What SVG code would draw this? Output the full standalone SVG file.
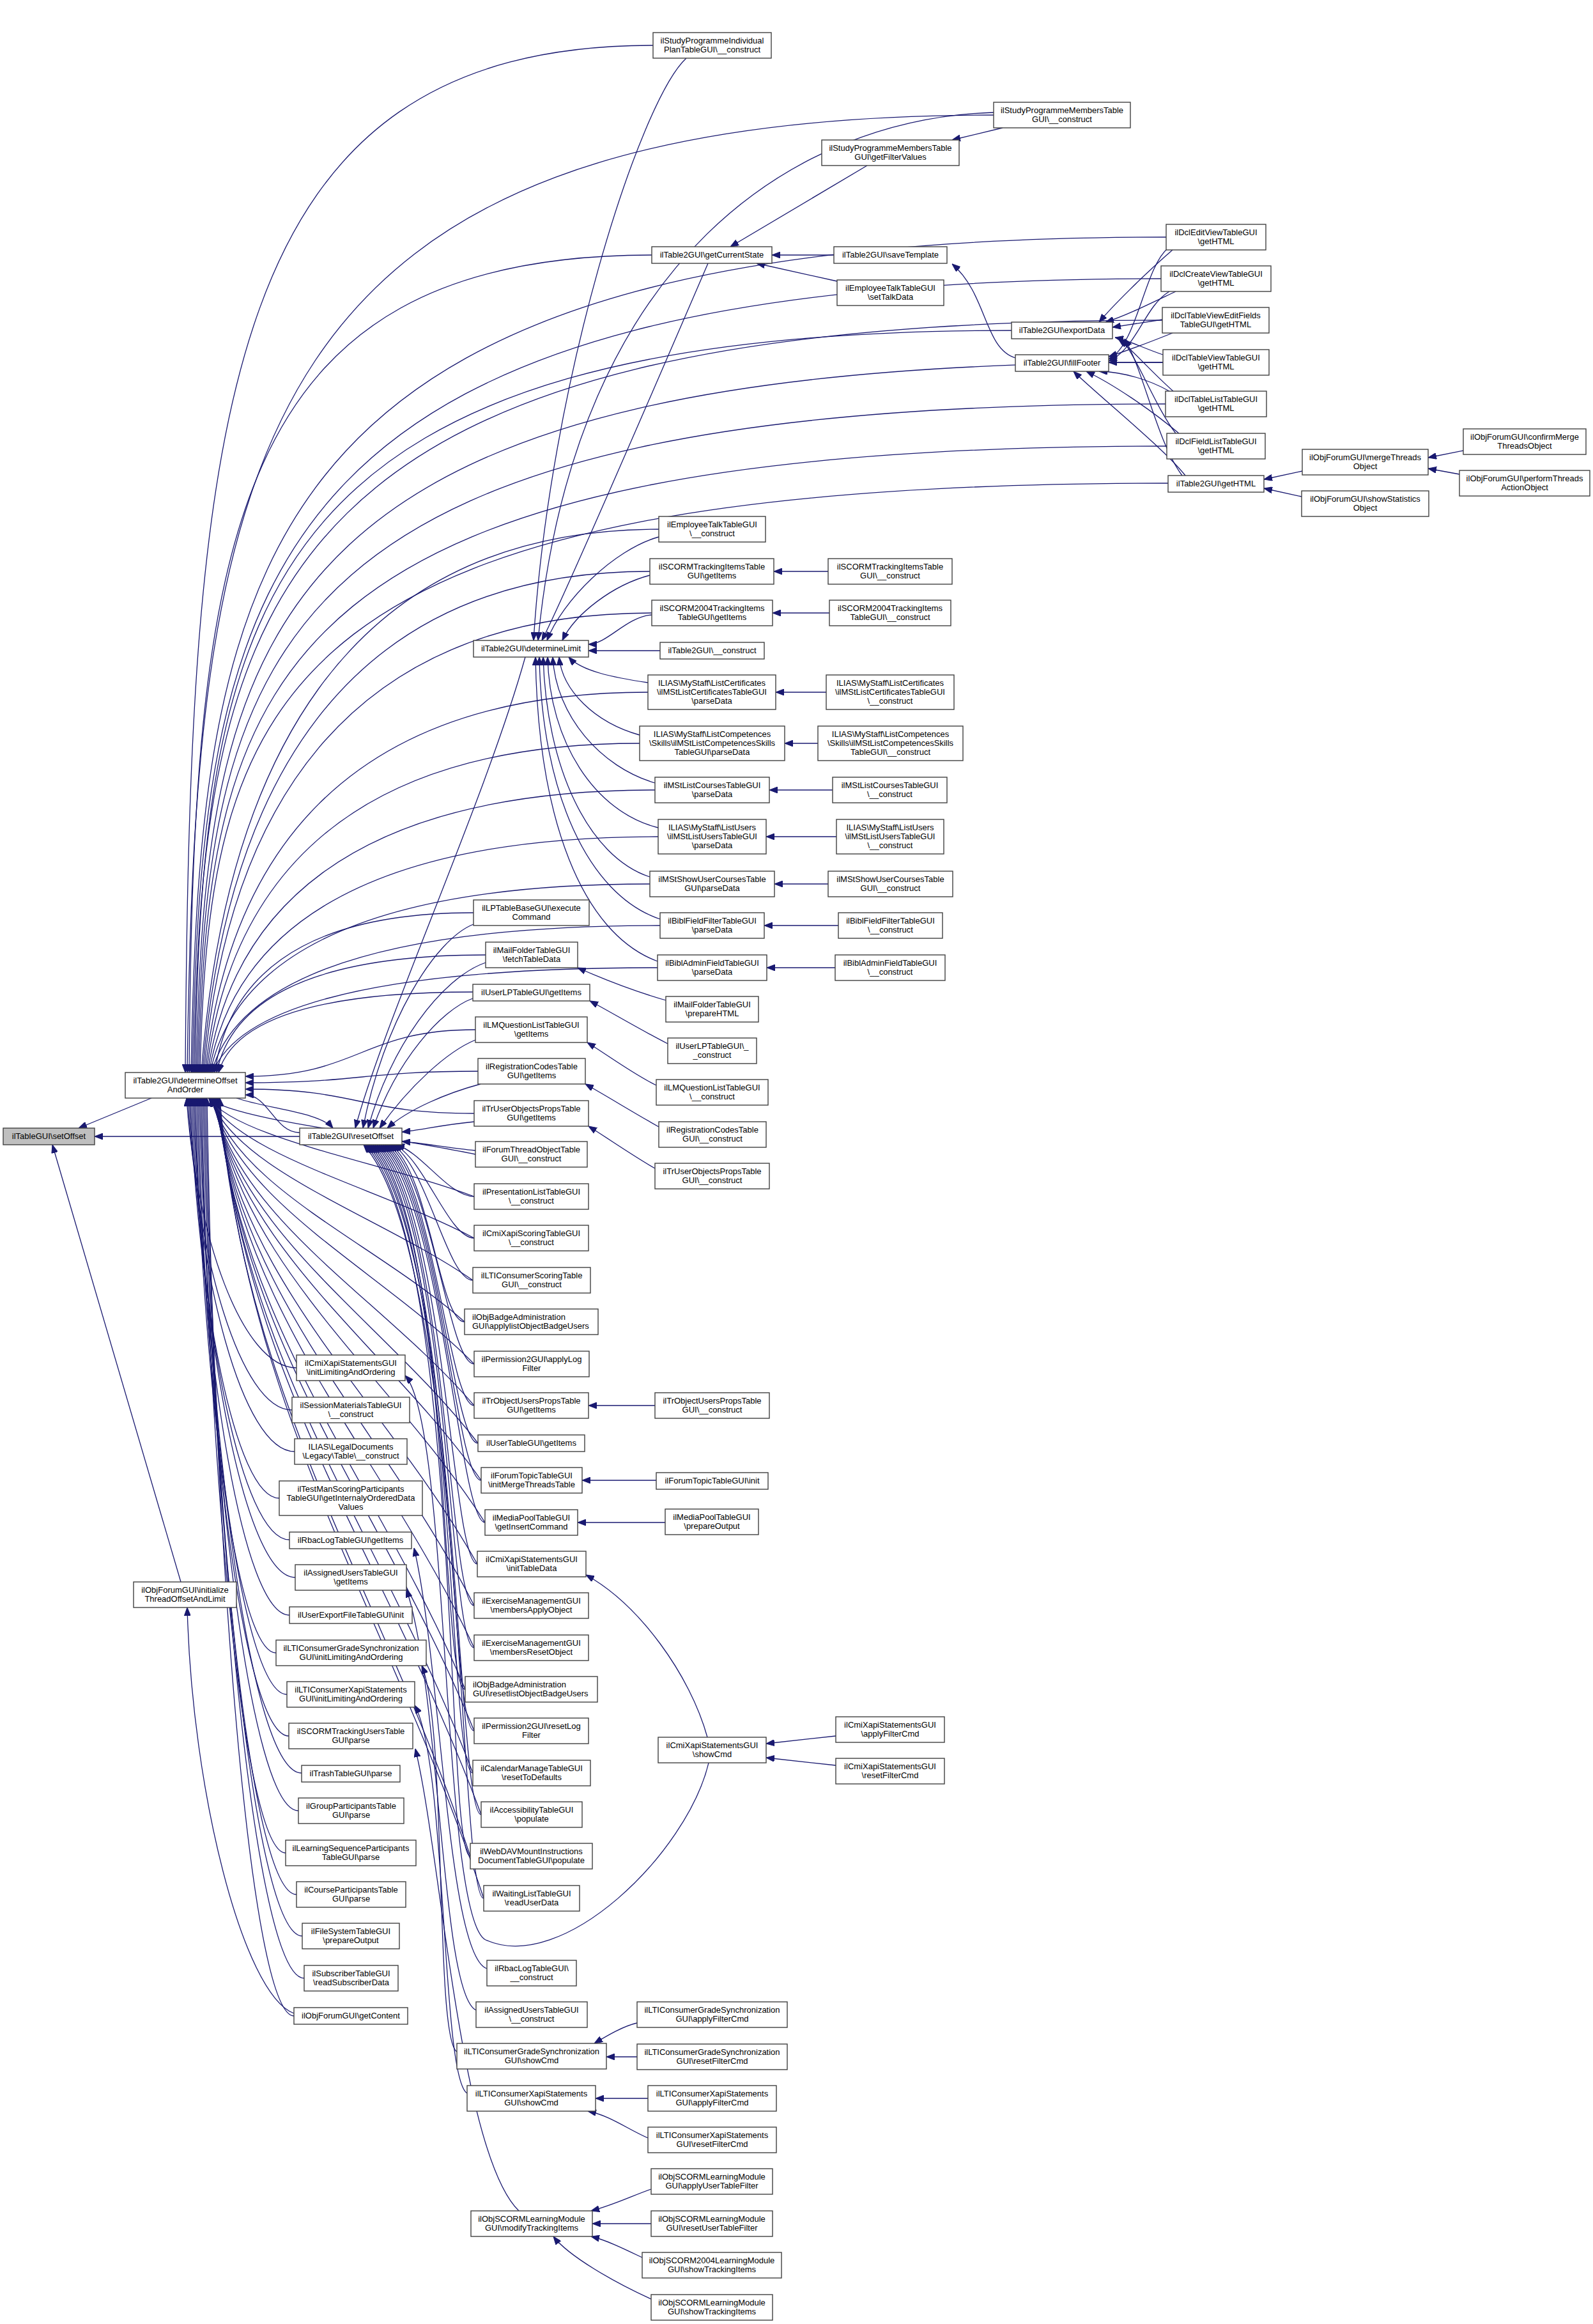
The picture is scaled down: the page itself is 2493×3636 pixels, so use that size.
<svg xmlns="http://www.w3.org/2000/svg" width="2493" height="3636" viewBox="0 0 2493 3636">
<defs>
<marker id="arr" markerWidth="13" markerHeight="10" refX="13" refY="5" orient="auto" markerUnits="userSpaceOnUse"><path d="M0,0 L13,5 L0,10 z" fill="#191970" stroke="#191970" stroke-width="1"/></marker>
</defs>
<style>
.e path{fill:none;stroke:#191970;stroke-width:1.3;marker-end:url(#arr)}
.n rect{fill:#ffffff;stroke:#404040;stroke-width:1.4}
.n rect.hl{fill:#bfbfbf}
.n text{font-family:"Liberation Sans",Arial,Helvetica,sans-serif;font-size:13px;fill:#000;text-anchor:middle}
.n text.l{text-anchor:start}
</style>
<rect x="0" y="0" width="2493" height="3636" fill="#ffffff"/>
<g id="edges" class="e">
<path d="M237,1718 L123,1765"/>
<path d="M469,1778 L148,1778"/>
<path d="M283,2475 L82,1791"/>
<path d="M460,3150 C380,3120 300,2800 293,2515"/>
<path d="M1022,71 C349,71 297,633 290,1678"/>
<path d="M1555,180 C394,180 306,704 293,1678"/>
<path d="M1020,399 C354,399 303,847 296,1678"/>
<path d="M1825,371 C421,371 314,828 299,1678"/>
<path d="M1817,436 C422,436 316,871 301,1678"/>
<path d="M1819,501 C424,501 318,913 303,1678"/>
<path d="M1583,517 C407,517 318,923 305,1678"/>
<path d="M1820,567 C428,567 322,956 307,1678"/>
<path d="M1824,632 C430,632 324,998 309,1678"/>
<path d="M1826,698 C432,698 326,1041 311,1678"/>
<path d="M1828,756 C434,756 328,1079 313,1678"/>
<path d="M1031,828 C530,828 351,1210 315,1678"/>
<path d="M1017,894 C527,894 352,1247 317,1678"/>
<path d="M1020,959 C529,959 354,1283 319,1678"/>
<path d="M1014,1083 C529,1083 356,1351 321,1678"/>
<path d="M1001,1163 C526,1163 357,1395 323,1678"/>
<path d="M1025,1236 C535,1236 360,1435 325,1678"/>
<path d="M1030,1309 C538,1309 362,1475 327,1678"/>
<path d="M1017,1383 C535,1383 363,1516 329,1678"/>
<path d="M1033,1448 C542,1448 366,1551 331,1678"/>
<path d="M1029,1514 C542,1514 368,1588 333,1678"/>
<path d="M741,1428 C458,1428 356,1540 336,1678"/>
<path d="M760,1494 C465,1494 360,1577 339,1678"/>
<path d="M740,1552 C461,1552 362,1609 342,1678"/>
<path d="M744,1611 C564,1611 564,1684 384,1684"/>
<path d="M748,1676 C566,1676 566,1694 384,1694"/>
<path d="M742,1742 C563,1742 563,1704 384,1704"/>
<path d="M469,1772 C430,1772 420,1713 384,1713"/>
<path d="M370,1718 C420,1735 500,1740 521,1765"/>
<path d="M464,2140 C378,2140 306,1929 292,1718"/>
<path d="M457,2206 C376,2206 307,1962 294,1718"/>
<path d="M461,2271 C379,2271 309,1994 296,1718"/>
<path d="M437,2344 C368,2344 309,2031 298,1718"/>
<path d="M453,2409 C377,2409 312,2064 300,1718"/>
<path d="M462,2468 C382,2468 315,2093 302,1718"/>
<path d="M453,2527 C379,2527 316,2123 304,1718"/>
<path d="M432,2586 C369,2586 316,2152 306,1718"/>
<path d="M449,2651 C379,2651 319,2185 308,1718"/>
<path d="M452,2716 C381,2716 321,2217 310,1718"/>
<path d="M472,2774 C392,2774 325,2246 312,1718"/>
<path d="M467,2833 C391,2833 326,2276 314,1718"/>
<path d="M447,2899 C382,2899 326,2308 316,1718"/>
<path d="M464,2964 C391,2964 330,2341 318,1718"/>
<path d="M473,3029 C397,3029 332,2374 320,1718"/>
<path d="M476,3095 C399,3095 334,2406 322,1718"/>
<path d="M460,3154 C392,3154 335,2436 324,1718"/>
<path d="M744,1806 C598,1775 368,1753 326,1718"/>
<path d="M742,1872 C597,1818 369,1780 327,1718"/>
<path d="M742,1937 C597,1860 369,1806 328,1718"/>
<path d="M740,2003 C596,1903 370,1832 329,1718"/>
<path d="M727,2068 C588,1945 370,1858 330,1718"/>
<path d="M742,2134 C598,1988 372,1884 331,1718"/>
<path d="M742,2199 C598,2031 373,1910 332,1718"/>
<path d="M748,2258 C603,2069 375,1934 333,1718"/>
<path d="M753,2316 C606,2107 376,1957 334,1718"/>
<path d="M759,2382 C611,2150 377,1984 335,1718"/>
<path d="M747,2447 C603,2192 377,2010 336,1718"/>
<path d="M742,2512 C600,2234 378,2036 337,1718"/>
<path d="M742,2578 C601,2277 378,2062 338,1718"/>
<path d="M728,2643 C592,2319 378,2088 339,1718"/>
<path d="M742,2708 C601,2361 380,2114 340,1718"/>
<path d="M740,2774 C600,2404 381,2140 341,1718"/>
<path d="M753,2839 C609,2447 383,2166 342,1718"/>
<path d="M736,2904 C598,2489 382,2192 343,1718"/>
<path d="M757,2970 C612,2532 385,2219 344,1718"/>
<path d="M822,1028 C760,1250 600,1600 556,1765"/>
<path d="M741,1446 C680,1470 600,1600 568,1765"/>
<path d="M760,1506 C690,1530 610,1640 576,1765"/>
<path d="M740,1562 C690,1580 620,1660 584,1765"/>
<path d="M744,1627 C700,1645 640,1700 594,1765"/>
<path d="M752,1696 C700,1710 640,1735 606,1765"/>
<path d="M742,1755 C690,1760 660,1768 629,1771"/>
<path d="M744,1800 C700,1796 660,1788 629,1786"/>
<path d="M742,1872 C702,1872 660,1802 620,1791"/>
<path d="M742,1937 C702,1937 664,1812 617,1791"/>
<path d="M740,2003 C700,2003 668,1822 614,1791"/>
<path d="M727,2068 C687,2068 672,1832 611,1791"/>
<path d="M742,2134 C702,2134 676,1842 608,1791"/>
<path d="M742,2199 C702,2199 680,1851 605,1791"/>
<path d="M748,2258 C708,2258 684,1860 602,1791"/>
<path d="M753,2316 C713,2316 688,1869 599,1791"/>
<path d="M759,2382 C719,2382 692,1879 596,1791"/>
<path d="M747,2447 C707,2447 696,1889 593,1791"/>
<path d="M742,2512 C702,2512 700,1898 590,1791"/>
<path d="M742,2578 C702,2578 704,1908 587,1791"/>
<path d="M728,2643 C688,2643 708,1918 584,1791"/>
<path d="M742,2708 C702,2708 712,1928 581,1791"/>
<path d="M740,2774 C700,2774 716,1938 578,1791"/>
<path d="M753,2839 C713,2839 720,1947 575,1791"/>
<path d="M736,2904 C696,2904 724,1957 572,1791"/>
<path d="M757,2970 C717,2970 728,1967 569,1791"/>
<path d="M1074,91 C1000,160 860,600 835,1002"/>
<path d="M1555,176 C1250,185 900,400 842,1002"/>
<path d="M1108,412 C1040,570 880,940 848,1002"/>
<path d="M1031,840 C960,860 880,940 856,1002"/>
<path d="M1017,900 C960,915 900,960 880,1002"/>
<path d="M1020,962 C980,965 950,1008 921,1008"/>
<path d="M1033,1018 L921,1018"/>
<path d="M1014,1068 C960,1060 910,1050 890,1028"/>
<path d="M1001,1150 C930,1130 880,1080 875,1028"/>
<path d="M1025,1225 C940,1200 870,1120 865,1028"/>
<path d="M1030,1295 C930,1270 860,1160 857,1028"/>
<path d="M1017,1372 C920,1340 855,1200 850,1028"/>
<path d="M1033,1438 C920,1400 848,1240 844,1028"/>
<path d="M1029,1504 C910,1460 842,1280 838,1028"/>
<path d="M1042,1565 C990,1550 940,1530 904,1514"/>
<path d="M1045,1633 C1000,1610 950,1580 923,1566"/>
<path d="M1027,1698 C990,1680 950,1650 919,1631"/>
<path d="M1031,1763 C990,1740 950,1715 916,1696"/>
<path d="M1025,1828 C990,1808 950,1780 921,1762"/>
<path d="M1025,2199 L921,2199"/>
<path d="M1027,2316 L911,2316"/>
<path d="M1041,2382 L904,2382"/>
<path d="M1107,2718 C1080,2620 1000,2510 917,2464"/>
<path d="M1109,2758 C1075,2900 880,3090 760,3035 C690,3000 705,2230 634,2152"/>
<path d="M762,3080 C700,3060 690,2600 648,2422"/>
<path d="M745,3145 C690,3120 690,2650 636,2486"/>
<path d="M715,3210 C680,3190 700,2700 660,2606"/>
<path d="M731,3275 C690,3250 700,2760 649,2668"/>
<path d="M812,3459 C720,3370 690,2900 650,2736"/>
<path d="M997,3165 C975,3170 950,3185 930,3197"/>
<path d="M997,3218 L949,3218"/>
<path d="M1014,3283 L932,3283"/>
<path d="M1014,3345 C980,3330 955,3310 920,3303"/>
<path d="M1019,3425 C990,3435 960,3450 925,3459"/>
<path d="M1019,3479 L927,3479"/>
<path d="M1005,3532 C980,3520 950,3505 925,3499"/>
<path d="M1019,3597 C960,3570 890,3530 866,3499"/>
<path d="M1308,2716 L1199,2728"/>
<path d="M1308,2762 L1199,2750"/>
<path d="M1296,894 L1211,894"/>
<path d="M1298,959 L1209,959"/>
<path d="M1293,1083 L1214,1083"/>
<path d="M1280,1163 L1228,1163"/>
<path d="M1303,1236 L1204,1236"/>
<path d="M1309,1309 L1199,1309"/>
<path d="M1296,1383 L1212,1383"/>
<path d="M1312,1448 L1196,1448"/>
<path d="M1307,1514 L1200,1514"/>
<path d="M1357,259 L1143,386"/>
<path d="M1305,399 L1208,399"/>
<path d="M1310,440 L1184,412"/>
<path d="M1569,200 L1490,219"/>
<path d="M1589,560 C1540,545 1545,460 1490,413"/>
<path d="M1835,391 C1790,430 1740,480 1720,504"/>
<path d="M1828,388 C1790,420 1780,540 1735,562"/>
<path d="M1840,456 C1800,475 1760,495 1730,504"/>
<path d="M1830,456 C1790,480 1780,545 1735,565"/>
<path d="M1819,500 L1741,512"/>
<path d="M1835,521 C1800,535 1760,550 1735,558"/>
<path d="M1820,555 C1790,545 1765,532 1745,528"/>
<path d="M1820,567 L1735,567"/>
<path d="M1836,612 C1800,580 1770,545 1750,530"/>
<path d="M1830,612 C1800,595 1760,582 1720,581"/>
<path d="M1840,678 C1810,640 1780,560 1755,530"/>
<path d="M1845,678 C1800,640 1740,600 1700,581"/>
<path d="M1850,744 C1810,690 1790,580 1760,530"/>
<path d="M1855,744 C1820,700 1720,620 1680,581"/>
<path d="M2038,737 L1978,750"/>
<path d="M2037,777 L1978,764"/>
<path d="M2290,705 L2235,716"/>
<path d="M2284,742 L2235,733"/>
</g>
<g id="n-setOffset" class="n"><rect class="hl" x="5" y="1765" width="143" height="26"/><text x="76.5" y="1782">ilTableGUI\setOffset</text></g>
<g id="n-determineOffsetAndOrder" class="n"><rect x="196" y="1678" width="188" height="40"/><text x="290" y="1695">ilTable2GUI\determineOffset<tspan x="290" dy="14">AndOrder</tspan></text></g>
<g id="n-initializeThreadOffsetAndLimit" class="n"><rect x="209" y="2475" width="161" height="40"/><text x="289.5" y="2492">ilObjForumGUI\initialize<tspan x="289.5" dy="14">ThreadOffsetAndLimit</tspan></text></g>
<g id="n-resetOffset" class="n"><rect x="469" y="1765" width="160" height="26"/><text x="549" y="1782">ilTable2GUI\resetOffset</text></g>
<g id="n-c1" class="n"><rect x="464" y="2120" width="170" height="40"/><text x="549" y="2137">ilCmiXapiStatementsGUI<tspan x="549" dy="14">\initLimitingAndOrdering</tspan></text></g>
<g id="n-c2" class="n"><rect x="457" y="2186" width="184" height="40"/><text x="549" y="2203">ilSessionMaterialsTableGUI<tspan x="549" dy="14">\__construct</tspan></text></g>
<g id="n-c3" class="n"><rect x="461" y="2251" width="176" height="40"/><text x="549" y="2268">ILIAS\LegalDocuments<tspan x="549" dy="14">\Legacy\Table\__construct</tspan></text></g>
<g id="n-c4" class="n"><rect x="437" y="2317" width="224" height="54"/><text x="549" y="2334">ilTestManScoringParticipants<tspan x="549" dy="14">TableGUI\getInternalyOrderedData</tspan><tspan x="549" dy="14">Values</tspan></text></g>
<g id="n-c5" class="n"><rect x="453" y="2397" width="191" height="26"/><text x="548.5" y="2414">ilRbacLogTableGUI\getItems</text></g>
<g id="n-c6" class="n"><rect x="462" y="2448" width="174" height="40"/><text x="549" y="2465">ilAssignedUsersTableGUI<tspan x="549" dy="14">\getItems</tspan></text></g>
<g id="n-c7" class="n"><rect x="453" y="2514" width="192" height="26"/><text x="549" y="2531">ilUserExportFileTableGUI\init</text></g>
<g id="n-c8" class="n"><rect x="432" y="2566" width="235" height="40"/><text x="549.5" y="2583">ilLTIConsumerGradeSynchronization<tspan x="549.5" dy="14">GUI\initLimitingAndOrdering</tspan></text></g>
<g id="n-c9" class="n"><rect x="449" y="2631" width="200" height="40"/><text x="549" y="2648">ilLTIConsumerXapiStatements<tspan x="549" dy="14">GUI\initLimitingAndOrdering</tspan></text></g>
<g id="n-c10" class="n"><rect x="452" y="2696" width="194" height="40"/><text x="549" y="2713">ilSCORMTrackingUsersTable<tspan x="549" dy="14">GUI\parse</tspan></text></g>
<g id="n-c11" class="n"><rect x="472" y="2762" width="154" height="26"/><text x="549" y="2779">ilTrashTableGUI\parse</text></g>
<g id="n-c12" class="n"><rect x="467" y="2813" width="165" height="40"/><text x="549.5" y="2830">ilGroupParticipantsTable<tspan x="549.5" dy="14">GUI\parse</tspan></text></g>
<g id="n-c13" class="n"><rect x="447" y="2879" width="204" height="40"/><text x="549" y="2896">ilLearningSequenceParticipants<tspan x="549" dy="14">TableGUI\parse</tspan></text></g>
<g id="n-c14" class="n"><rect x="464" y="2944" width="171" height="40"/><text x="549.5" y="2961">ilCourseParticipantsTable<tspan x="549.5" dy="14">GUI\parse</tspan></text></g>
<g id="n-c15" class="n"><rect x="473" y="3009" width="152" height="40"/><text x="549" y="3026">ilFileSystemTableGUI<tspan x="549" dy="14">\prepareOutput</tspan></text></g>
<g id="n-c16" class="n"><rect x="476" y="3075" width="147" height="40"/><text x="549.5" y="3092">ilSubscriberTableGUI<tspan x="549.5" dy="14">\readSubscriberData</tspan></text></g>
<g id="n-c17" class="n"><rect x="460" y="3141" width="178" height="26"/><text x="549" y="3158">ilObjForumGUI\getContent</text></g>
<g id="n-determineLimit" class="n"><rect x="741" y="1002" width="180" height="26"/><text x="831" y="1019">ilTable2GUI\determineLimit</text></g>
<g id="n-d1" class="n"><rect x="741" y="1408" width="181" height="40"/><text x="831.5" y="1425">ilLPTableBaseGUI\execute<tspan x="831.5" dy="14">Command</tspan></text></g>
<g id="n-d2" class="n"><rect x="760" y="1474" width="144" height="40"/><text x="832" y="1491">ilMailFolderTableGUI<tspan x="832" dy="14">\fetchTableData</tspan></text></g>
<g id="n-d3" class="n"><rect x="740" y="1540" width="183" height="26"/><text x="831.5" y="1557">ilUserLPTableGUI\getItems</text></g>
<g id="n-d4" class="n"><rect x="744" y="1591" width="175" height="40"/><text x="831.5" y="1608">ilLMQuestionListTableGUI<tspan x="831.5" dy="14">\getItems</tspan></text></g>
<g id="n-d5" class="n"><rect x="748" y="1656" width="168" height="40"/><text x="832" y="1673">ilRegistrationCodesTable<tspan x="832" dy="14">GUI\getItems</tspan></text></g>
<g id="n-d6" class="n"><rect x="742" y="1722" width="179" height="40"/><text x="831.5" y="1739">ilTrUserObjectsPropsTable<tspan x="831.5" dy="14">GUI\getItems</tspan></text></g>
<g id="n-d7" class="n"><rect x="744" y="1786" width="175" height="40"/><text x="831.5" y="1803">ilForumThreadObjectTable<tspan x="831.5" dy="14">GUI\__construct</tspan></text></g>
<g id="n-d8" class="n"><rect x="742" y="1852" width="179" height="40"/><text x="831.5" y="1869">ilPresentationListTableGUI<tspan x="831.5" dy="14">\__construct</tspan></text></g>
<g id="n-d9" class="n"><rect x="742" y="1917" width="179" height="40"/><text x="831.5" y="1934">ilCmiXapiScoringTableGUI<tspan x="831.5" dy="14">\__construct</tspan></text></g>
<g id="n-d10" class="n"><rect x="740" y="1983" width="184" height="40"/><text x="832" y="2000">ilLTIConsumerScoringTable<tspan x="832" dy="14">GUI\__construct</tspan></text></g>
<g id="n-d11" class="n"><rect x="727" y="2048" width="209" height="40"/><text class="l" x="739" y="2065">ilObjBadgeAdministration<tspan x="739" dy="14">GUI\applylistObjectBadgeUsers</tspan></text></g>
<g id="n-d12" class="n"><rect x="742" y="2114" width="180" height="40"/><text x="832" y="2131">ilPermission2GUI\applyLog<tspan x="832" dy="14">Filter</tspan></text></g>
<g id="n-d13" class="n"><rect x="742" y="2179" width="179" height="40"/><text x="831.5" y="2196">ilTrObjectUsersPropsTable<tspan x="831.5" dy="14">GUI\getItems</tspan></text></g>
<g id="n-d14" class="n"><rect x="748" y="2245" width="167" height="26"/><text x="831.5" y="2262">ilUserTableGUI\getItems</text></g>
<g id="n-d15" class="n"><rect x="753" y="2296" width="158" height="40"/><text x="832" y="2313">ilForumTopicTableGUI<tspan x="832" dy="14">\initMergeThreadsTable</tspan></text></g>
<g id="n-d16" class="n"><rect x="759" y="2362" width="145" height="40"/><text x="831.5" y="2379">ilMediaPoolTableGUI<tspan x="831.5" dy="14">\getInsertCommand</tspan></text></g>
<g id="n-d17" class="n"><rect x="747" y="2427" width="170" height="40"/><text x="832" y="2444">ilCmiXapiStatementsGUI<tspan x="832" dy="14">\initTableData</tspan></text></g>
<g id="n-d18" class="n"><rect x="742" y="2492" width="179" height="40"/><text x="831.5" y="2509">ilExerciseManagementGUI<tspan x="831.5" dy="14">\membersApplyObject</tspan></text></g>
<g id="n-d19" class="n"><rect x="742" y="2558" width="179" height="40"/><text x="831.5" y="2575">ilExerciseManagementGUI<tspan x="831.5" dy="14">\membersResetObject</tspan></text></g>
<g id="n-d20" class="n"><rect x="728" y="2623" width="207" height="40"/><text class="l" x="740" y="2640">ilObjBadgeAdministration<tspan x="740" dy="14">GUI\resetlistObjectBadgeUsers</tspan></text></g>
<g id="n-d21" class="n"><rect x="742" y="2688" width="179" height="40"/><text x="831.5" y="2705">ilPermission2GUI\resetLog<tspan x="831.5" dy="14">Filter</tspan></text></g>
<g id="n-d22" class="n"><rect x="740" y="2754" width="184" height="40"/><text x="832" y="2771">ilCalendarManageTableGUI<tspan x="832" dy="14">\resetToDefaults</tspan></text></g>
<g id="n-d23" class="n"><rect x="753" y="2819" width="158" height="40"/><text x="832" y="2836">ilAccessibilityTableGUI<tspan x="832" dy="14">\populate</tspan></text></g>
<g id="n-d24" class="n"><rect x="736" y="2884" width="191" height="40"/><text x="831.5" y="2901">ilWebDAVMountInstructions<tspan x="831.5" dy="14">DocumentTableGUI\populate</tspan></text></g>
<g id="n-d25" class="n"><rect x="757" y="2950" width="150" height="40"/><text x="832" y="2967">ilWaitingListTableGUI<tspan x="832" dy="14">\readUserData</tspan></text></g>
<g id="n-d26" class="n"><rect x="762" y="3067" width="140" height="40"/><text x="832" y="3084">ilRbacLogTableGUI\<tspan x="832" dy="14">__construct</tspan></text></g>
<g id="n-d27" class="n"><rect x="745" y="3132" width="174" height="40"/><text x="832" y="3149">ilAssignedUsersTableGUI<tspan x="832" dy="14">\__construct</tspan></text></g>
<g id="n-d28" class="n"><rect x="715" y="3197" width="234" height="40"/><text x="832" y="3214">ilLTIConsumerGradeSynchronization<tspan x="832" dy="14">GUI\showCmd</tspan></text></g>
<g id="n-d29" class="n"><rect x="731" y="3263" width="201" height="40"/><text x="831.5" y="3280">ilLTIConsumerXapiStatements<tspan x="831.5" dy="14">GUI\showCmd</tspan></text></g>
<g id="n-d30" class="n"><rect x="737" y="3459" width="190" height="40"/><text x="832" y="3476">ilObjSCORMLearningModule<tspan x="832" dy="14">GUI\modifyTrackingItems</tspan></text></g>
<g id="n-e1" class="n"><rect x="1022" y="51" width="185" height="40"/><text x="1114.5" y="68">ilStudyProgrammeIndividual<tspan x="1114.5" dy="14">PlanTableGUI\__construct</tspan></text></g>
<g id="n-getCurrentState" class="n"><rect x="1020" y="386" width="188" height="26"/><text x="1114" y="403">ilTable2GUI\getCurrentState</text></g>
<g id="n-e3" class="n"><rect x="1031" y="808" width="167" height="40"/><text x="1114.5" y="825">ilEmployeeTalkTableGUI<tspan x="1114.5" dy="14">\__construct</tspan></text></g>
<g id="n-e4" class="n"><rect x="1017" y="874" width="194" height="40"/><text x="1114" y="891">ilSCORMTrackingItemsTable<tspan x="1114" dy="14">GUI\getItems</tspan></text></g>
<g id="n-e5" class="n"><rect x="1020" y="939" width="189" height="40"/><text x="1114.5" y="956">ilSCORM2004TrackingItems<tspan x="1114.5" dy="14">TableGUI\getItems</tspan></text></g>
<g id="n-e6" class="n"><rect x="1033" y="1005" width="163" height="26"/><text x="1114.5" y="1022">ilTable2GUI\__construct</text></g>
<g id="n-e7" class="n"><rect x="1014" y="1056" width="200" height="54"/><text x="1114" y="1073">ILIAS\MyStaff\ListCertificates<tspan x="1114" dy="14">\ilMStListCertificatesTableGUI</tspan><tspan x="1114" dy="14">\parseData</tspan></text></g>
<g id="n-e8" class="n"><rect x="1001" y="1136" width="227" height="54"/><text x="1114.5" y="1153">ILIAS\MyStaff\ListCompetences<tspan x="1114.5" dy="14">\Skills\ilMStListCompetencesSkills</tspan><tspan x="1114.5" dy="14">TableGUI\parseData</tspan></text></g>
<g id="n-e9" class="n"><rect x="1025" y="1216" width="179" height="40"/><text x="1114.5" y="1233">ilMStListCoursesTableGUI<tspan x="1114.5" dy="14">\parseData</tspan></text></g>
<g id="n-e10" class="n"><rect x="1030" y="1282" width="169" height="54"/><text x="1114.5" y="1299">ILIAS\MyStaff\ListUsers<tspan x="1114.5" dy="14">\ilMStListUsersTableGUI</tspan><tspan x="1114.5" dy="14">\parseData</tspan></text></g>
<g id="n-e11" class="n"><rect x="1017" y="1363" width="195" height="40"/><text x="1114.5" y="1380">ilMStShowUserCoursesTable<tspan x="1114.5" dy="14">GUI\parseData</tspan></text></g>
<g id="n-e12" class="n"><rect x="1033" y="1428" width="163" height="40"/><text x="1114.5" y="1445">ilBiblFieldFilterTableGUI<tspan x="1114.5" dy="14">\parseData</tspan></text></g>
<g id="n-e13" class="n"><rect x="1029" y="1494" width="171" height="40"/><text x="1114.5" y="1511">ilBiblAdminFieldTableGUI<tspan x="1114.5" dy="14">\parseData</tspan></text></g>
<g id="n-e14" class="n"><rect x="1042" y="1559" width="145" height="40"/><text x="1114.5" y="1576">ilMailFolderTableGUI<tspan x="1114.5" dy="14">\prepareHTML</tspan></text></g>
<g id="n-e15" class="n"><rect x="1045" y="1624" width="139" height="40"/><text x="1114.5" y="1641">ilUserLPTableGUI\_<tspan x="1114.5" dy="14">_construct</tspan></text></g>
<g id="n-e16" class="n"><rect x="1027" y="1689" width="175" height="40"/><text x="1114.5" y="1706">ilLMQuestionListTableGUI<tspan x="1114.5" dy="14">\__construct</tspan></text></g>
<g id="n-e17" class="n"><rect x="1031" y="1755" width="168" height="40"/><text x="1115" y="1772">ilRegistrationCodesTable<tspan x="1115" dy="14">GUI\__construct</tspan></text></g>
<g id="n-e18" class="n"><rect x="1025" y="1820" width="179" height="40"/><text x="1114.5" y="1837">ilTrUserObjectsPropsTable<tspan x="1114.5" dy="14">GUI\__construct</tspan></text></g>
<g id="n-e19" class="n"><rect x="1025" y="2179" width="179" height="40"/><text x="1114.5" y="2196">ilTrObjectUsersPropsTable<tspan x="1114.5" dy="14">GUI\__construct</tspan></text></g>
<g id="n-e20" class="n"><rect x="1027" y="2304" width="175" height="26"/><text x="1114.5" y="2321">ilForumTopicTableGUI\init</text></g>
<g id="n-e21" class="n"><rect x="1041" y="2361" width="146" height="40"/><text x="1114" y="2378">ilMediaPoolTableGUI<tspan x="1114" dy="14">\prepareOutput</tspan></text></g>
<g id="n-e22" class="n"><rect x="1030" y="2718" width="169" height="40"/><text x="1114.5" y="2735">ilCmiXapiStatementsGUI<tspan x="1114.5" dy="14">\showCmd</tspan></text></g>
<g id="n-e23" class="n"><rect x="997" y="3132" width="235" height="40"/><text x="1114.5" y="3149">ilLTIConsumerGradeSynchronization<tspan x="1114.5" dy="14">GUI\applyFilterCmd</tspan></text></g>
<g id="n-e24" class="n"><rect x="997" y="3198" width="235" height="40"/><text x="1114.5" y="3215">ilLTIConsumerGradeSynchronization<tspan x="1114.5" dy="14">GUI\resetFilterCmd</tspan></text></g>
<g id="n-e25" class="n"><rect x="1014" y="3263" width="201" height="40"/><text x="1114.5" y="3280">ilLTIConsumerXapiStatements<tspan x="1114.5" dy="14">GUI\applyFilterCmd</tspan></text></g>
<g id="n-e26" class="n"><rect x="1014" y="3328" width="201" height="40"/><text x="1114.5" y="3345">ilLTIConsumerXapiStatements<tspan x="1114.5" dy="14">GUI\resetFilterCmd</tspan></text></g>
<g id="n-e27" class="n"><rect x="1019" y="3393" width="190" height="40"/><text x="1114" y="3410">ilObjSCORMLearningModule<tspan x="1114" dy="14">GUI\applyUserTableFilter</tspan></text></g>
<g id="n-e28" class="n"><rect x="1019" y="3459" width="190" height="40"/><text x="1114" y="3476">ilObjSCORMLearningModule<tspan x="1114" dy="14">GUI\resetUserTableFilter</tspan></text></g>
<g id="n-e29" class="n"><rect x="1005" y="3524" width="218" height="40"/><text x="1114" y="3541">ilObjSCORM2004LearningModule<tspan x="1114" dy="14">GUI\showTrackingItems</tspan></text></g>
<g id="n-e30" class="n"><rect x="1019" y="3590" width="190" height="40"/><text x="1114" y="3607">ilObjSCORMLearningModule<tspan x="1114" dy="14">GUI\showTrackingItems</tspan></text></g>
<g id="n-f1" class="n"><rect x="1286" y="219" width="215" height="40"/><text x="1393.5" y="236">ilStudyProgrammeMembersTable<tspan x="1393.5" dy="14">GUI\getFilterValues</tspan></text></g>
<g id="n-saveTemplate" class="n"><rect x="1305" y="386" width="177" height="26"/><text x="1393.5" y="403">ilTable2GUI\saveTemplate</text></g>
<g id="n-f3" class="n"><rect x="1310" y="438" width="167" height="40"/><text x="1393.5" y="455">ilEmployeeTalkTableGUI<tspan x="1393.5" dy="14">\setTalkData</tspan></text></g>
<g id="n-f4" class="n"><rect x="1296" y="874" width="194" height="40"/><text x="1393" y="891">ilSCORMTrackingItemsTable<tspan x="1393" dy="14">GUI\__construct</tspan></text></g>
<g id="n-f5" class="n"><rect x="1298" y="939" width="190" height="40"/><text x="1393" y="956">ilSCORM2004TrackingItems<tspan x="1393" dy="14">TableGUI\__construct</tspan></text></g>
<g id="n-f6" class="n"><rect x="1293" y="1056" width="200" height="54"/><text x="1393" y="1073">ILIAS\MyStaff\ListCertificates<tspan x="1393" dy="14">\ilMStListCertificatesTableGUI</tspan><tspan x="1393" dy="14">\__construct</tspan></text></g>
<g id="n-f7" class="n"><rect x="1280" y="1136" width="227" height="54"/><text x="1393.5" y="1153">ILIAS\MyStaff\ListCompetences<tspan x="1393.5" dy="14">\Skills\ilMStListCompetencesSkills</tspan><tspan x="1393.5" dy="14">TableGUI\__construct</tspan></text></g>
<g id="n-f8" class="n"><rect x="1303" y="1216" width="179" height="40"/><text x="1392.5" y="1233">ilMStListCoursesTableGUI<tspan x="1392.5" dy="14">\__construct</tspan></text></g>
<g id="n-f9" class="n"><rect x="1309" y="1282" width="168" height="54"/><text x="1393" y="1299">ILIAS\MyStaff\ListUsers<tspan x="1393" dy="14">\ilMStListUsersTableGUI</tspan><tspan x="1393" dy="14">\__construct</tspan></text></g>
<g id="n-f10" class="n"><rect x="1296" y="1363" width="195" height="40"/><text x="1393.5" y="1380">ilMStShowUserCoursesTable<tspan x="1393.5" dy="14">GUI\__construct</tspan></text></g>
<g id="n-f11" class="n"><rect x="1312" y="1428" width="163" height="40"/><text x="1393.5" y="1445">ilBiblFieldFilterTableGUI<tspan x="1393.5" dy="14">\__construct</tspan></text></g>
<g id="n-f12" class="n"><rect x="1307" y="1494" width="172" height="40"/><text x="1393" y="1511">ilBiblAdminFieldTableGUI<tspan x="1393" dy="14">\__construct</tspan></text></g>
<g id="n-f13" class="n"><rect x="1308" y="2686" width="170" height="40"/><text x="1393" y="2703">ilCmiXapiStatementsGUI<tspan x="1393" dy="14">\applyFilterCmd</tspan></text></g>
<g id="n-f14" class="n"><rect x="1308" y="2751" width="170" height="40"/><text x="1393" y="2768">ilCmiXapiStatementsGUI<tspan x="1393" dy="14">\resetFilterCmd</tspan></text></g>
<g id="n-g1" class="n"><rect x="1555" y="160" width="214" height="40"/><text x="1662" y="177">ilStudyProgrammeMembersTable<tspan x="1662" dy="14">GUI\__construct</tspan></text></g>
<g id="n-exportData" class="n"><rect x="1583" y="504" width="158" height="26"/><text x="1662" y="521">ilTable2GUI\exportData</text></g>
<g id="n-fillFooter" class="n"><rect x="1589" y="555" width="146" height="26"/><text x="1662" y="572">ilTable2GUI\fillFooter</text></g>
<g id="n-h1" class="n"><rect x="1825" y="351" width="156" height="40"/><text x="1903" y="368">ilDclEditViewTableGUI<tspan x="1903" dy="14">\getHTML</tspan></text></g>
<g id="n-h2" class="n"><rect x="1817" y="416" width="172" height="40"/><text x="1903" y="433">ilDclCreateViewTableGUI<tspan x="1903" dy="14">\getHTML</tspan></text></g>
<g id="n-h3" class="n"><rect x="1819" y="481" width="167" height="40"/><text x="1902.5" y="498">ilDclTableViewEditFields<tspan x="1902.5" dy="14">TableGUI\getHTML</tspan></text></g>
<g id="n-h4" class="n"><rect x="1820" y="547" width="166" height="40"/><text x="1903" y="564">ilDclTableViewTableGUI<tspan x="1903" dy="14">\getHTML</tspan></text></g>
<g id="n-h5" class="n"><rect x="1824" y="612" width="158" height="40"/><text x="1903" y="629">ilDclTableListTableGUI<tspan x="1903" dy="14">\getHTML</tspan></text></g>
<g id="n-h6" class="n"><rect x="1826" y="678" width="154" height="40"/><text x="1903" y="695">ilDclFieldListTableGUI<tspan x="1903" dy="14">\getHTML</tspan></text></g>
<g id="n-getHTML" class="n"><rect x="1828" y="744" width="150" height="26"/><text x="1903" y="761">ilTable2GUI\getHTML</text></g>
<g id="n-mergeThreads" class="n"><rect x="2038" y="703" width="197" height="40"/><text x="2136.5" y="720">ilObjForumGUI\mergeThreads<tspan x="2136.5" dy="14">Object</tspan></text></g>
<g id="n-showStatistics" class="n"><rect x="2037" y="768" width="199" height="40"/><text x="2136.5" y="785">ilObjForumGUI\showStatistics<tspan x="2136.5" dy="14">Object</tspan></text></g>
<g id="n-confirmMerge" class="n"><rect x="2290" y="671" width="192" height="40"/><text x="2386" y="688">ilObjForumGUI\confirmMerge<tspan x="2386" dy="14">ThreadsObject</tspan></text></g>
<g id="n-performThreads" class="n"><rect x="2284" y="736" width="204" height="40"/><text x="2386" y="753">ilObjForumGUI\performThreads<tspan x="2386" dy="14">ActionObject</tspan></text></g>
</svg>
